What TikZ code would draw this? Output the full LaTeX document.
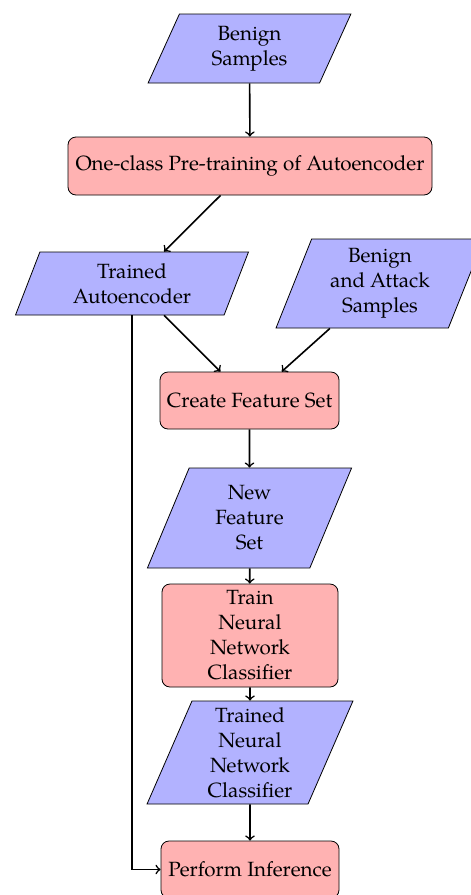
\documentclass[tikz,border=0pt]{standalone}
\usepackage{fontspec}
\setmainfont{TeX Gyre Pagella}
\usetikzlibrary{shapes.geometric}
\begin{document}
\begin{tikzpicture}[x=0.5pt,y=-0.5pt,
  font=\fontsize{10.3}{12.5}\selectfont,
  io/.style={trapezium, trapezium left angle=70, trapezium right angle=110,
    trapezium stretches=true, draw, fill=blue!30, align=center, inner sep=1pt},
  proc/.style={rectangle, rounded corners=4pt, draw, fill=red!30,
    align=center, inner sep=1pt},
  flow/.style={->, thick}]
\useasboundingbox (0,0) rectangle (471,895);

% data (parallelograms) and processes (rounded boxes)
\node[io, minimum width=101.5pt, minimum height=34.5pt] (bs) at (249.5,48.5) {Benign\\Samples};
\node[proc, minimum width=182pt, minimum height=29pt] (pre) at (250,166) {One-class Pre-training of Autoencoder};
\node[io, minimum width=117pt, minimum height=31.5pt] (tae) at (132,283.5) {Trained\\Autoencoder};
\node[io, minimum width=104pt, minimum height=44.5pt] (baa) at (380,283.5) {Benign\\and Attack\\Samples};
\node[proc, minimum width=89.5pt, minimum height=28.5pt] (cfs) at (249.5,400.5) {Create Feature Set};
\node[io, minimum width=102.5pt, minimum height=50pt] (nfs) at (249.5,518) {New\\Feature\\Set};
\node[proc, minimum width=88pt, minimum height=51.5pt] (tnn) at (250,635.5) {Train\\Neural\\Network\\Classifier};
\node[io, minimum width=103pt, minimum height=51.5pt] (tnnc) at (250,752.5) {Trained\\Neural\\Network\\Classifier};
\node[proc, minimum width=89pt, minimum height=28.5pt] (inf) at (250,869.5) {Perform Inference};

% connectors
\draw[flow] (bs) -- (pre);
\draw[flow] (pre) -- (tae);
\draw[flow] (tae) -- (cfs);
\draw[flow] (baa) -- (cfs);
\draw[flow] (cfs) -- (nfs);
\draw[flow] (nfs) -- (tnn);
\draw[flow] (tnn) -- (tnnc);
\draw[flow] (tnnc) -- (inf);
\draw[flow] (tae.south) |- (inf.west);
\end{tikzpicture}
\end{document}
